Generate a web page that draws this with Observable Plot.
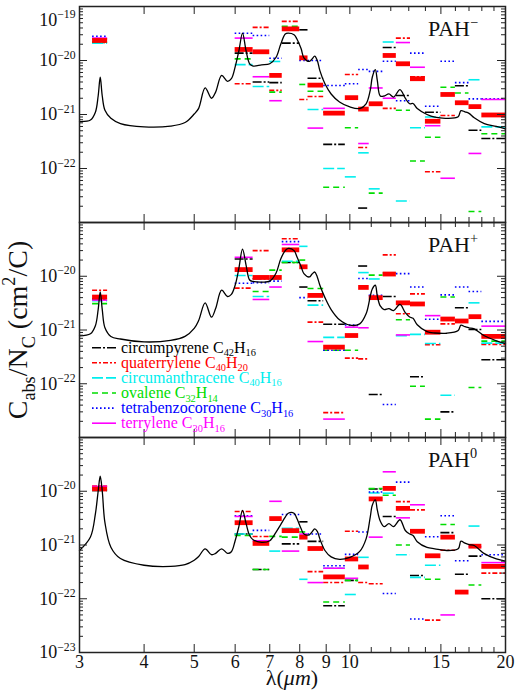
<!DOCTYPE html>
<html><head><meta charset="utf-8">
<script src="https://cdn.jsdelivr.net/npm/d3@7"></script>
<script src="https://cdn.jsdelivr.net/npm/@observablehq/plot@0.6"></script>
<style>
body{margin:0;background:#fff;}
#chart{position:relative;width:518px;height:690px;font-family:"Liberation Serif",serif;}
#chart svg{position:absolute;left:0;overflow:visible;}
</style></head><body><div id="chart"></div>
<script>
// ---- wavelength bins (µm) of the band-strength bars ----
const binLo = [3.18, 6.0, 6.5, 7.0, 7.4, 8.0, 8.3, 8.9, 9.8, 10.4, 10.9, 11.6, 12.3, 13.1, 14.0, 15.0, 16.0, 17.0, 18.0];
const binHi = [3.4, 6.5, 7.0, 7.4, 8.0, 8.3, 8.9, 9.8, 10.4, 10.9, 11.6, 12.3, 13.1, 14.0, 15.0, 16.0, 17.0, 18.0, 20.0];

// ---- molecules ----
const molNames = ["circumpyrene", "quaterrylene", "circumanthracene", "ovalene", "tetrabenzocoronene", "terrylene"];
const molC = ["42", "40", "40", "32", "30", "30"];
const molH = ["16", "20", "16", "14", "16", "16"];
const molColors = ["#000000", "#ff0000", "#00eeee", "#00dd00", "#0000ff", "#ff00ff"];
const molDash = ["9,2,2,2", "5,2,2,2", "11,3", "6,4", "1.6,2.4", null];

// ---- PAH- (anion) ----
const avgAnion = [2.35e-20, 1.6e-20, 1.45e-20, 5.3e-21, 3.85e-20, 1.12e-20, 3.5e-21, 1.06e-21, 2.05e-21, 1.26e-21, 1.58e-21, 1.24e-20, 8.7e-21, 4.6e-21, 7.5e-22, 2.35e-21, 1.65e-21, 1.4e-21, 9.8e-22];
const circumpyreneAnion = [2.15e-20, 1.37e-20, 4.0e-21, 3.9e-21, 2.1e-20, 3.7e-20, 4.7e-21, 2.8e-22, null, 1.85e-23, null, 1.74e-20, 2.25e-21, null, 1.1e-21, null, 3.4e-21, 5.1e-22, 3.6e-22];
const quaterryleneAnion = [2.5e-20, 3.7e-21, 4.1e-20, 2.8e-21, 5.3e-20, 1.9e-21, 2.15e-21, 1.1e-21, 5.5e-21, 2.45e-22, null, 1.3e-21, 2.6e-20, 5.0e-21, 8.7e-23, 9.6e-22, null, null, null];
const circumanthraceneAnion = [2.1e-20, 8.4e-21, 3.3e-21, 9.6e-21, null, null, 1.24e-21, 1.0e-22, 7.0e-23, 1.95e-22, 4.2e-23, 2.2e-20, 2.5e-23, 5.7e-22, 9.0e-22, null, null, 4.4e-21, 5.9e-22];
const ovaleneAnion = [2.2e-20, 1.07e-20, null, 2.6e-21, 4.3e-20, 3.6e-21, 2.7e-21, 4.5e-23, 5.7e-22, null, 3.5e-23, null, 1.2e-21, 1.38e-22, 3.8e-22, 3.2e-21, 2.5e-21, 1.6e-23, 4.4e-22];
const tetrabenzocoroneneAnion = [2.8e-20, 3.2e-20, 2.9e-20, 1.1e-20, null, 1.0e-20, 1.0e-20, 3.45e-21, 3.7e-21, 6.8e-21, 6.3e-21, 9.7e-21, 1.8e-21, 1.37e-20, 1.42e-21, 9.7e-21, 3.9e-21, 1.95e-21, 1.95e-21];
const terryleneAnion = [2.6e-20, 2.6e-20, 5.0e-21, 1.8e-21, null, null, 5.6e-22, 1.3e-21, null, 2.9e-22, 3.1e-21, 2.0e-21, 2.15e-20, 7.5e-21, 6.2e-22, 6.6e-23, null, 1.9e-22, 1.9e-21];

// ---- PAH+ (cation) ----
const avgCation = [4.1e-21, 1.33e-20, 9.5e-21, 9.5e-21, 3.1e-20, 1.5e-20, 4.4e-21, 4.8e-22, 7.9e-22, 6.2e-21, 4.0e-21, 1.1e-20, 3.2e-21, 3.05e-21, 9.1e-22, 1.6e-21, 1.47e-21, 1.77e-21, 7.6e-22];
const circumpyreneCation = [3.8e-21, 2.1e-20, 9.0e-21, null, 1.8e-20, 6.3e-21, 3.5e-21, 1.28e-21, null, 1.55e-20, 6.3e-23, 4.2e-21, null, 1.35e-22, null, 3.0e-23, 2.6e-21, 1.02e-21, 2.8e-22];
const quaterryleneCation = [5.5e-21, 6.0e-21, 3.0e-20, null, 5.0e-20, null, 1.4e-21, 2.9e-23, 3.0e-22, 2.9e-22, null, 2.5e-20, 2.0e-21, 4.7e-21, 5.3e-22, 1.3e-21, null, null, 5.4e-22];
const circumanthraceneCation = [3.5e-21, 1.03e-20, 4.2e-21, 8.8e-21, 1.9e-20, 3.6e-20, 2.9e-21, 7.3e-22, null, 1.17e-20, 8.9e-21, null, 7.8e-22, 8.3e-22, 5.6e-22, 6.1e-23, null, 3.2e-21, 5.7e-22];
const ovaleneCation = [3.1e-21, null, 5.2e-21, 1.3e-20, 1.8e-20, 2.0e-20, 5.9e-21, 4.2e-22, 4.2e-22, null, 1.05e-20, 1.15e-20, 1.55e-21, 9.0e-23, 2.2e-23, 4.1e-21, null, 8.5e-23, 6.2e-22];
const tetrabenzocoroneneCation = [3.8e-21, 7.4e-21, 7.6e-21, 8.1e-21, 4.4e-20, 4.0e-21, null, 4.2e-22, 1.24e-21, 9.1e-21, 4.4e-21, 4.1e-23, 1.12e-20, 6.3e-21, 1.58e-21, 4.5e-21, 6.3e-21, 5.2e-21, 1.45e-21];
const terryleneCation = [3.6e-21, 2.25e-20, 3.7e-21, 6.3e-21, 3.9e-20, null, 6.1e-22, 2.2e-23, 1.13e-21, 1.1e-21, null, null, 8.1e-22, null, 1.85e-21, null, null, null, 1.18e-21];

// ---- PAH0 (neutral) ----
const avgNeutral = [1.1e-20, 2.6e-21, 1.07e-21, 3.1e-21, 1.85e-21, 1.4e-21, 8.6e-22, 2.55e-22, 5.5e-22, 3.9e-22, 7.2e-21, 1.13e-20, 4.8e-21, 1.8e-21, 6.3e-22, 1.4e-21, 1.33e-22, 9.5e-22, 4.0e-22];
const circumpyreneNeutral = [1.05e-20, 1.6e-21, 3.5e-22, null, 1.05e-21, 2.7e-21, 1.17e-21, 7.4e-23, 2.2e-22, null, 1.1e-20, 3.4e-21, null, 2.7e-22, null, 1.7e-21, 2.85e-22, 6.2e-22, 1.0e-22];
const quaterryleneNeutral = [1.25e-20, 4.2e-21, 1.44e-21, null, null, null, 3.2e-22, 2.0e-22, 1.8e-21, 2.0e-22, 1.9e-22, null, 6.4e-21, 4.5e-21, 4.0e-23, 8.0e-22, null, null, 3.0e-22];
const circumanthraceneNeutral = [1.02e-20, 1.6e-21, null, 7.7e-22, 2.05e-21, 2.3e-22, null, 3.7e-22, 1.2e-22, 5.9e-22, 9.3e-21, 9.2e-21, 6.6e-22, 2.5e-22, 4.2e-22, null, null, 2.25e-21, null];
const ovaleneNeutral = [1.08e-20, 1.5e-21, 3.5e-22, 1.45e-21, 1.4e-21, 1.75e-21, null, 8.7e-23, 2.2e-22, null, 1.12e-20, 8.4e-21, 1.0e-21, null, 2.3e-22, 2.4e-21, null, 1.8e-22, null];
const tetrabenzocoroneneNeutral = [1.15e-20, 3.5e-21, 1.87e-21, null, 3.7e-21, null, 1.6e-21, 4.1e-22, 6.7e-22, 1.75e-21, 9.7e-21, 1.25e-22, 1.48e-20, 4.2e-23, 1.42e-21, 3.5e-21, 5.1e-22, null, 6.6e-22];
const terryleneNeutral = [1.23e-20, 3.4e-21, 1.2e-21, 6.5e-21, 7.7e-22, 1.6e-21, 2.0e-22, 3.7e-22, 2.4e-22, null, 1.4e-21, 2.3e-20, 3.2e-21, 5.6e-21, null, 5.0e-23, null, 9.3e-22, 4.7e-22];

// ---- model spectra (black curves) ----
const lam = [3.0,3.15,3.22,3.26,3.29,3.32,3.36,3.45,3.6,4.0,4.5,4.8,5.0,5.1,5.25,5.4,5.5,5.65,5.8,5.9,6.0,6.1,6.2,6.3,6.4,6.5,6.75,7.0,7.2,7.35,7.5,7.6,7.8,7.9,8.05,8.15,8.35,8.45,8.55,8.65,8.75,8.95,9.2,9.55,10.0,10.45,10.75,10.95,11.05,11.2,11.3,11.45,11.65,11.9,12.15,12.5,12.8,13.05,13.25,13.5,14.1,14.6,15.4,16.2,16.4,16.7,17.0,17.4,18.2,19.2,20.0];
const curveAnion = [7.4e-22,7.9e-22,1.1e-21,2.2e-21,4.9e-21,2.2e-21,1.2e-21,8.5e-22,6.8e-22,5.9e-22,6.1e-22,7.1e-22,1.02e-21,1.3e-21,3.1e-21,2.0e-21,2.6e-21,5.3e-21,4.1e-21,4.6e-21,7.6e-21,1.5e-20,3.2e-20,1.5e-20,8.7e-21,7.9e-21,8.3e-21,8.7e-21,1.15e-20,2.0e-20,3.1e-20,3.2e-20,3.0e-20,2.5e-20,1.65e-20,1.12e-20,9.6e-21,1.07e-20,1.2e-20,1.0e-20,6.5e-21,3.7e-21,2.4e-21,1.7e-21,1.38e-21,1.29e-21,1.58e-21,2.8e-21,4.9e-21,6.8e-21,4.3e-21,2.2e-21,2.2e-21,2.4e-21,2.1e-21,2.9e-21,2.0e-21,1.58e-21,1.6e-21,1.29e-21,1.0e-21,8.9e-22,8.5e-22,9.1e-22,1.18e-21,1.12e-21,1.05e-21,8.7e-22,6.8e-22,6.0e-22,5.4e-22];
const curveCation = [7.8e-22,8.5e-22,1.2e-21,2.4e-21,5.1e-21,2.4e-21,1.1e-21,7.6e-22,6.8e-22,6.0e-22,6.4e-22,7.6e-22,1.07e-21,1.5e-21,3.2e-21,1.73e-21,2.5e-21,5.5e-21,4.2e-21,4.6e-21,6.8e-21,1.4e-20,3.2e-20,1.6e-20,8.5e-21,8.0e-21,7.8e-21,8.1e-21,1.15e-20,2.1e-20,3.0e-20,3.3e-20,3.0e-20,2.3e-20,1.5e-20,1.12e-20,9.7e-21,1.1e-20,1.2e-20,9.7e-21,6.8e-21,4.0e-21,2.4e-21,1.55e-21,1.23e-21,1.3e-21,2.0e-21,4.2e-21,5.8e-21,6.8e-21,4.3e-21,2.8e-21,2.4e-21,2.5e-21,2.3e-21,3.0e-21,2.1e-21,1.75e-21,1.65e-21,1.25e-21,9.3e-22,8.8e-22,8.7e-22,9.8e-22,1.23e-21,1.15e-21,1.1e-21,1.05e-21,7.8e-22,6.3e-22,5.6e-22];
const curveNeutral = [7.9e-22,1.41e-21,3.8e-21,1.0e-20,1.9e-20,1.0e-20,2.6e-21,9.1e-22,5.6e-22,4.2e-22,4.0e-22,4.3e-22,5.2e-22,6.1e-22,8.5e-22,6.6e-22,7.0e-22,8.5e-22,7.0e-22,7.5e-22,1.2e-21,2.2e-21,4.4e-21,2.5e-21,1.5e-21,1.25e-21,1.12e-21,1.2e-21,1.74e-21,2.4e-21,3.3e-21,3.9e-21,3.9e-21,3.1e-21,2.0e-21,1.6e-21,1.55e-21,1.75e-21,2.0e-21,1.8e-21,1.3e-21,7.9e-22,6.0e-22,5.4e-22,5.9e-22,7.6e-22,1.3e-21,3.3e-21,5.5e-21,6.9e-21,4.5e-21,2.8e-21,2.2e-21,2.5e-21,2.2e-21,2.95e-21,1.86e-21,1.6e-21,1.5e-21,1.15e-21,9.0e-22,8.5e-22,7.9e-22,8.5e-22,1.18e-21,1.08e-21,1.02e-21,9.8e-22,6.9e-22,5.5e-22,5.0e-22];

// ---- axes ----
const xMajor = [3, 4, 5, 6, 7, 8, 9, 10, 15, 20];
const xMinor = [11, 12, 13, 14, 16, 17, 18, 19];
const yDecades = [1e-23, 1e-22, 1e-21, 1e-20, 1e-19];
const yLabelsAnion = [1e-19, 1e-20, 1e-21, 1e-22];
const yLabelsCation = [1e-20, 1e-21, 1e-22];
const yLabelsNeutral = [1e-20, 1e-21, 1e-22, 1e-23];
const panelSup = ["\u2212", "+", "0"];

const yMinor = [];
for (let e = -23; e < -19; e++) for (let m = 2; m <= 9; m++) yMinor.push(m * Math.pow(10, e));

const panels = [
  {sup: panelSup[0], avg: avgAnion, curve: curveAnion, labels: yLabelsAnion, top: 0, height: 222, mt: 6, mb: 0,
   series: [circumpyreneAnion, quaterryleneAnion, circumanthraceneAnion, ovaleneAnion, tetrabenzocoroneneAnion, terryleneAnion]},
  {sup: panelSup[1], avg: avgCation, curve: curveCation, labels: yLabelsCation, top: 222, height: 215, mt: 0, mb: 0,
   series: [circumpyreneCation, quaterryleneCation, circumanthraceneCation, ovaleneCation, tetrabenzocoroneneCation, terryleneCation]},
  {sup: panelSup[2], avg: avgNeutral, curve: curveNeutral, labels: yLabelsNeutral, top: 437, height: 253, mt: 0, mb: 38,
   series: [circumpyreneNeutral, quaterryleneNeutral, circumanthraceneNeutral, ovaleneNeutral, tetrabenzocoroneneNeutral, terryleneNeutral]}
];

const bars = arr => binLo.map((lo, i) => ({lo, hi: binHi[i], v: arr[i]})).filter(d => d.v != null);

function rich(sel, parts, size, subK = 0.3) {
  let shift = 0;
  parts.forEach(([t, kind]) => {
    const target = kind === "sub" ? subK * size : kind === "sup" ? -0.42 * size : 0;
    const ts = sel.append("tspan").text(t);
    const d = target - shift;
    if (Math.abs(d) > 1e-9) ts.attr("dy", d.toFixed(2));
    if (kind) ts.attr("font-size", (0.65 * size).toFixed(1));
    shift = target;
  });
}

const FONT = "'Liberation Serif', 'DejaVu Serif', serif";
const chart = document.getElementById("chart");

panels.forEach((p, idx) => {
  const ph = p.height - p.mt - p.mb;
  const iw = 518 - 79 - 13;
  const marks = [];
  p.series.forEach((arr, s) => {
    const o = {y: "v", x1: "lo", x2: "hi", stroke: molColors[s], strokeWidth: 1.6};
    if (molDash[s]) o.strokeDasharray = molDash[s];
    marks.push(Plot.ruleY(bars(arr), o));
  });
  marks.push(Plot.ruleY(bars(p.avg), {y: "v", x1: "lo", x2: "hi", stroke: "#ff0000", strokeWidth: 4.8}));
  marks.push(Plot.line(lam.map((l, i) => ({l, v: p.curve[i]})), {x: "l", y: "v", stroke: "#000", strokeWidth: 1.3, curve: "catmull-rom"}));
  // inward ticks
  marks.push(Plot.ruleX(xMajor, {insetTop: ph - 8, stroke: "#222", strokeWidth: 1}));
  marks.push(Plot.ruleX(xMajor, {insetBottom: ph - 8, stroke: "#222", strokeWidth: 1}));
  marks.push(Plot.ruleX(xMinor, {insetTop: ph - 5, stroke: "#222", strokeWidth: 1}));
  marks.push(Plot.ruleX(xMinor, {insetBottom: ph - 5, stroke: "#222", strokeWidth: 1}));
  marks.push(Plot.ruleY(yDecades, {insetRight: iw - 8, stroke: "#222", strokeWidth: 1}));
  marks.push(Plot.ruleY(yDecades, {insetLeft: iw - 8, stroke: "#222", strokeWidth: 1}));
  marks.push(Plot.ruleY(yMinor, {insetRight: iw - 4, stroke: "#222", strokeWidth: 1}));
  marks.push(Plot.ruleY(yMinor, {insetLeft: iw - 4, stroke: "#222", strokeWidth: 1}));
  marks.push(Plot.frame({stroke: "#222", strokeWidth: 1.5}));
  marks.push(Plot.axisY({ticks: p.labels, tickSize: 0, tickPadding: 4, fontSize: 18, label: null, tickFormat: d => "10^" + Math.round(Math.log10(d))}));
  if (idx === 2) marks.push(Plot.axisX({ticks: xMajor, tickSize: 0, tickPadding: 3, fontSize: 18, label: null, tickFormat: d => String(d)}));

  const svg = Plot.plot({
    width: 518, height: p.height,
    marginLeft: 79, marginRight: 13, marginTop: p.mt, marginBottom: p.mb,
    x: {type: "log", domain: [3, 20], axis: idx === 2 ? undefined : null},
    y: {type: "log", domain: [1e-23, 1e-19]},
    style: {fontFamily: FONT, fontSize: "18px", overflow: "visible", background: "transparent", color: "#111"},
    marks
  });
  svg.style.top = p.top + "px";
  chart.appendChild(svg);
  const s = d3.select(svg);

  // y tick labels as 10^n with superscript
  s.selectAll('g[aria-label="y-axis tick label"] text').each(function() {
    const txt = this.textContent;
    const e = txt.split("^")[1];
    const t = d3.select(this);
    t.text("");
    rich(t, [["10", null], [e.replace("-", "\u2212"), "sup"]], 18);
    if (e === "-19") t.attr("dy", "0.75em");
  });

  // panel label
  const lab = s.append("text").attr("x", 428).attr("y", p.mt + 30).attr("text-anchor", "start")
    .attr("font-family", FONT).attr("font-size", 22).attr("fill", "#111");
  rich(lab, [["PAH", null], [p.sup, "sup"]], 22);

  if (idx === 1) {
    // legend
    molNames.forEach((n, i) => {
      const y = 125.7 + i * 15.1;
      const ln = s.append("line").attr("x1", 92).attr("x2", 116).attr("y1", y).attr("y2", y)
        .attr("stroke", molColors[i]).attr("stroke-width", 1.6);
      if (molDash[i]) ln.attr("stroke-dasharray", molDash[i]);
      const t = s.append("text").attr("x", 121).attr("y", y + 5).attr("fill", molColors[i]).attr("text-anchor", "start")
        .attr("font-family", FONT).attr("font-size", 16);
      rich(t, [[n + " C", null], [molC[i], "sub"], ["H", null], [molH[i], "sub"]], 16, 0.22);
    });
    // y axis title
    const yt = s.append("text").attr("transform", "translate(27,108) rotate(-90)")
      .attr("text-anchor", "middle").attr("font-family", FONT).attr("font-size", 28).attr("fill", "#111");
    rich(yt, [["C", null], ["abs", "sub"], ["/N", null], ["C", "sub"], [" (cm", null], ["2", "sup"], ["/C)", null]], 28);
  }
  if (idx === 2) {
    const xt = s.append("text").attr("x", 292).attr("y", 248).attr("text-anchor", "middle")
      .attr("font-family", FONT).attr("font-size", 22).attr("fill", "#111");
    xt.append("tspan").text("\u03bb(");
    xt.append("tspan").attr("font-style", "italic").text("\u03bcm");
    xt.append("tspan").text(")");
  }
});
</script>
</body></html>
